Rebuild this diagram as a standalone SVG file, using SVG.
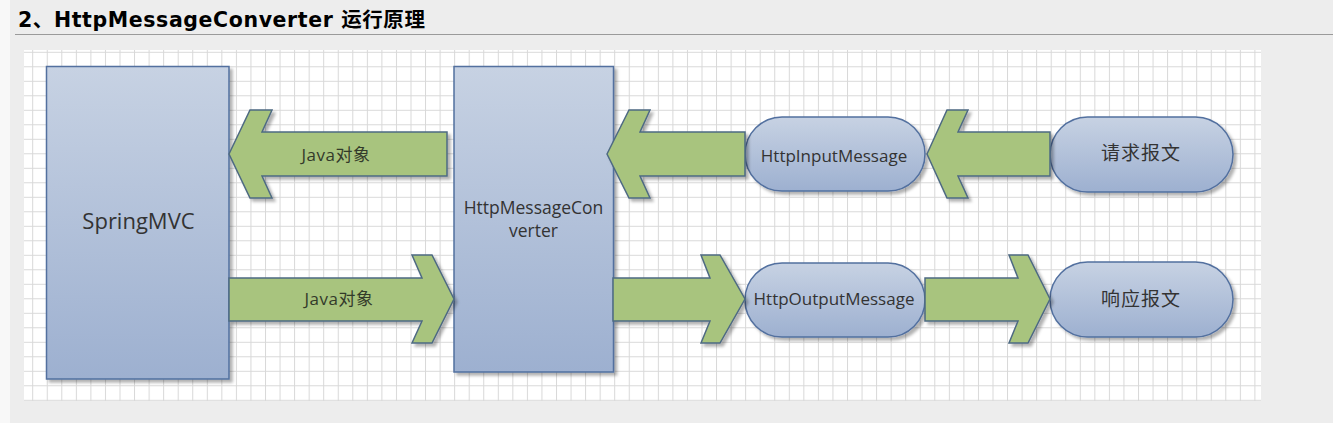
<svg xmlns="http://www.w3.org/2000/svg" width="1333" height="423" viewBox="0 0 1333 423">
<style>
.hdr{font-family:"DejaVu Sans","Noto Sans CJK SC",sans-serif;font-weight:bold;font-size:20.5px;letter-spacing:0.6px;fill:#000}
.box{fill:url(#gBox);stroke:#52709f;stroke-width:1.5;filter:url(#sh)}
.arr{fill:#a8c47e;stroke:#4e6a82;stroke-width:1.5;stroke-linejoin:miter;filter:url(#sh)}
.t{font-family:"Open Sans","Noto Sans CJK SC",sans-serif;fill:#333333;text-anchor:middle}
.ta{font-family:"Open Sans","Noto Sans CJK SC",sans-serif;fill:#333a2a;text-anchor:middle;font-size:17px;letter-spacing:0.5px}
.cjk{font-family:"Noto Sans CJK SC",sans-serif;fill:#333333;text-anchor:middle;font-size:19px;letter-spacing:1px}
</style>
<defs>
<linearGradient id="gBox" x1="0" y1="0" x2="0" y2="1">
<stop offset="0" stop-color="#c7d2e3"/>
<stop offset="1" stop-color="#9db0d0"/>
</linearGradient>
<pattern id="grid" patternUnits="userSpaceOnUse" x="32.2" y="51.8" width="14.55" height="14.5">
<path d="M0.5 0V14.5M0 0.5H14.55" stroke="#d8d8d8" stroke-width="1" fill="none"/>
</pattern>
<filter id="sh" x="-10%" y="-10%" width="130%" height="130%">
<feDropShadow dx="3" dy="3" stdDeviation="1.5" flood-color="#000" flood-opacity="0.3"/>
</filter>
</defs>
<rect x="0" y="0" width="1333" height="423" fill="#ededed"/>
<rect x="0" y="0" width="10" height="423" fill="#f8f8f8"/>
<text class="hdr" x="18" y="26.5">2、HttpMessageConverter 运行原理</text>
<line x1="15" y1="34.5" x2="1333" y2="34.5" stroke="#9a9a9a" stroke-width="1"/>
<rect x="24" y="50" width="1237" height="351" fill="#ffffff"/>
<rect x="24" y="50" width="1237" height="351" fill="url(#grid)"/>

<g id="node-springmvc">
<rect class="box" x="46.5" y="66.5" width="182.5" height="312.5"/>
<text class="t" x="138.5" y="228.5" font-size="22">SpringMVC</text>
</g>
<g id="node-converter">
<rect class="box" x="454" y="66.5" width="159.5" height="305.5"/>
<text class="t" x="533.5" y="213.5" font-size="17.5">HttpMessageCon</text>
<text class="t" x="533.5" y="236.5" font-size="17.5">verter</text>
</g>
<g id="node-input">
<rect class="box" x="745" y="117" width="180" height="74" rx="37" ry="37"/>
<text class="t" x="834" y="161.5" font-size="17">HttpInputMessage</text>
</g>
<g id="node-output">
<rect class="box" x="745" y="263" width="180" height="74" rx="37" ry="37"/>
<text class="t" x="834" y="305" font-size="17">HttpOutputMessage</text>
</g>
<g id="node-request">
<rect class="box" x="1050" y="117" width="183" height="75" rx="37.5" ry="37.5"/>
<text class="cjk" x="1141" y="160">请求报文</text>
</g>
<g id="node-response">
<rect class="box" x="1050" y="262" width="183" height="75" rx="37.5" ry="37.5"/>
<text class="cjk" x="1141" y="306">响应报文</text>
</g>

<g id="connectors">
<g id="arrow-java-in">
<polygon class="arr" points="229,154 250,110 272,110 262,132 447,132 447,176 262,176 272,198 250,198"/>
<text class="ta" x="336" y="161">Java对象</text>
</g>
<g id="arrow-java-out">
<polygon class="arr" points="229,278 422,278 412,255 432,255 454,299 432,343 412,343 422,321 229,321"/>
<text class="ta" x="339" y="305">Java对象</text>
</g>
<polygon class="arr" points="607,154 629,110 650,110 640,132 745,132 745,176 640,176 650,198 629,198"/>
<polygon class="arr" points="927,154 947,110 968,110 958,132 1050,132 1050,176 958,176 968,198 947,198"/>
<polygon class="arr" points="613,278 710,278 701,255 720,255 745,299 720,343 701,343 710,321 613,321"/>
<polygon class="arr" points="925,278 1018,278 1009,255 1028,255 1050,299 1028,343 1009,343 1018,321 925,321"/>
</g>
</svg>
